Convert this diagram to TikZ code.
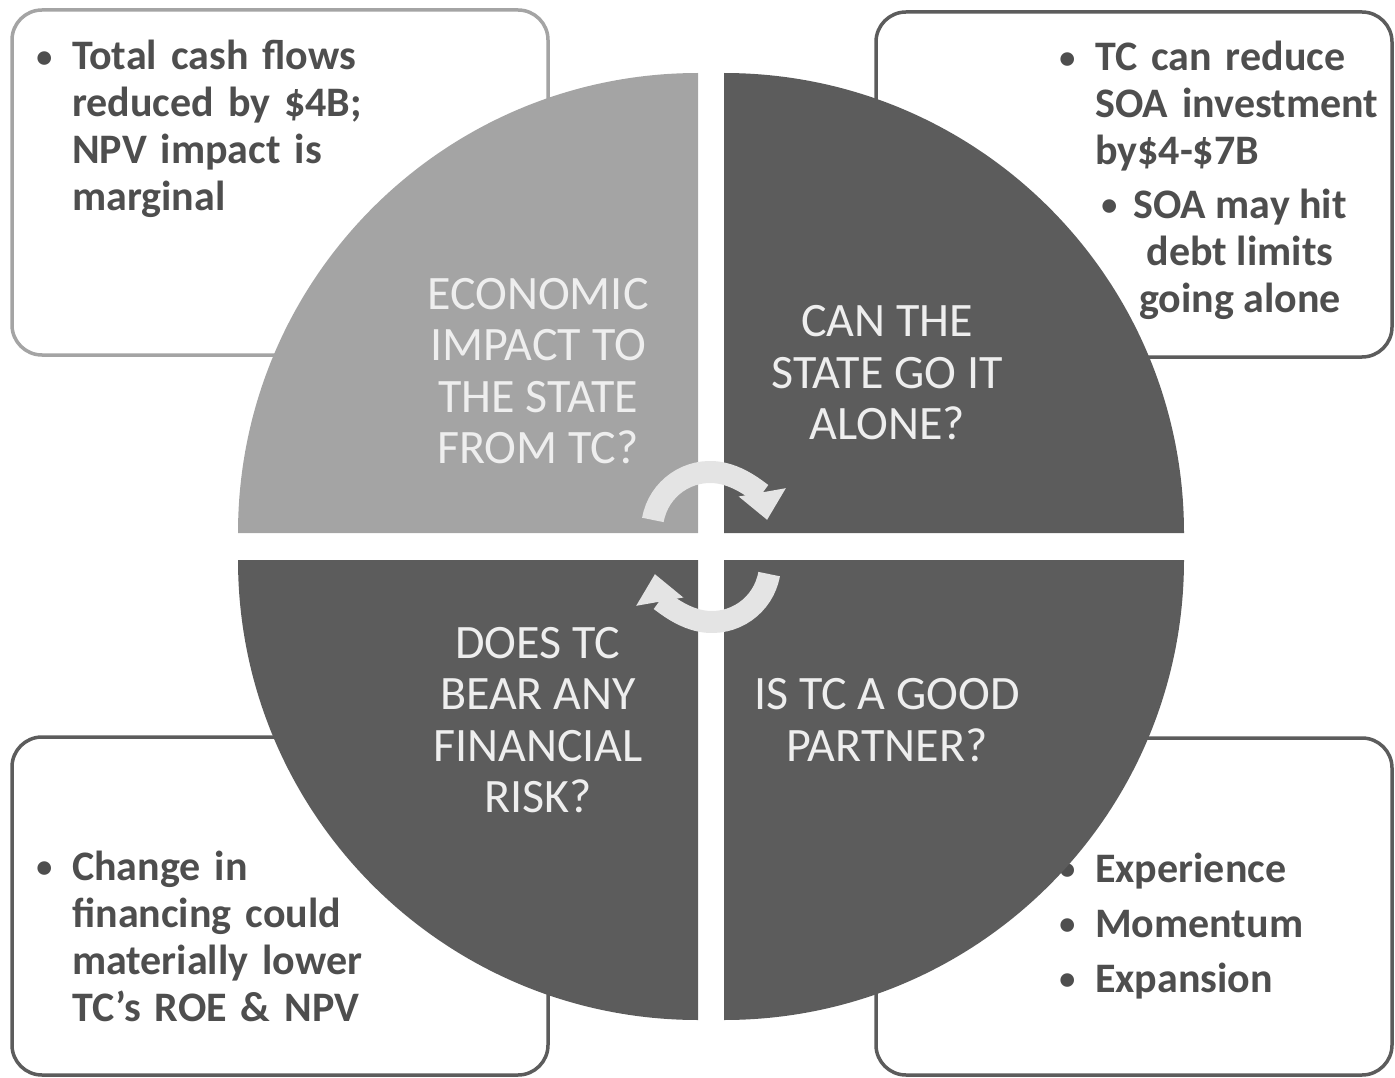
\documentclass[tikz,border=0pt]{standalone}
\usepackage{fontspec}
\setmainfont{Carlito}
\usepackage{tikz}
\usetikzlibrary{arrows.meta}
\definecolor{quadL}{RGB}{164, 164, 164}
\definecolor{quadD}{RGB}{92, 92, 92}
\definecolor{capT}{RGB}{238, 238, 238}
\definecolor{noteT}{RGB}{78, 78, 78}
\definecolor{loopC}{RGB}{228, 228, 228}
\newcommand{\bul}[1]{\leavevmode\llap{\raisebox{2.5pt}{\fontsize{32}{32}\selectfont\textbullet}\hspace{#1}}}

\begin{document}
\begin{tikzpicture}[x=1pt, y=-1pt,
    note/.style={anchor=base west, inner sep=0pt, text width=470pt, align=left,
      text=noteT, font=\bfseries\fontsize{42}{47}\selectfont},
    quad/.style={inner sep=0pt, align=center, text=capT, font=\fontsize{48}{51.5}\selectfont},
    frame/.style={line width=3.5pt, rounded corners=30pt, fill=white},
    cycler/.style={loopC, line width=22pt, -{Triangle[length=28pt, width=46pt]}}]
  \useasboundingbox (0,0) rectangle (1395,1078);

  % note boxes behind the disc
  \draw[frame, draw=quadL] (12,10) rectangle (548,355);
  \draw[frame, draw=quadD] (876,12) rectangle (1392,357);
  \draw[frame, draw=quadD] (12,737) rectangle (548,1075);
  \draw[frame, draw=quadD] (876,738) rectangle (1392,1075);

  \node[note] (econNote) at (72,70) {\bul{20pt}Total cash flows\\reduced by \$4B;\\NPV impact is\\marginal};
  \node[note] (aloneNote) at (1095,71) {\bul{20pt}TC can reduce\\SOA investment\\by\$4-\$7B};
  \node[note, anchor=base, text width=, align=center] (debtNote) at (1240,312)
    {\bul{16pt}SOA may hit\\debt limits\\going alone};
  \node[note] (riskNote) at (72,880) {\bul{20pt}Change in\\financing could\\materially lower\\TC’s ROE \& NPV};
  \node[note, font=\bfseries\fontsize{42}{55}\selectfont] (partnerNote) at (1095,882)
    {\bul{20pt}Experience\\\bul{20pt}Momentum\\\bul{20pt}Expansion};

  % four quarter discs around the cross
  \fill[quadL] (698,533) -- ++(180:460) arc[start angle=180, end angle=270, radius=460] -- cycle;
  \fill[quadD] (724,533) -- ++(270:460) arc[start angle=270, end angle=360, radius=460] -- cycle;
  \fill[quadD] (724,560) -- ++(0:460) arc[start angle=0, end angle=90, radius=460] -- cycle;
  \fill[quadD] (698,560) -- ++(90:460) arc[start angle=90, end angle=180, radius=460] -- cycle;

  \node[quad] (econ) at (538,371) {ECONOMIC\\IMPACT TO\\THE STATE\\FROM TC?};
  \node[quad] (alone) at (887,373) {CAN THE\\STATE GO IT\\ALONE?};
  \node[quad] (risk) at (538,720) {DOES TC\\BEAR ANY\\FINANCIAL\\RISK?};
  \node[quad] (partner) at (887,720) {IS TC A GOOD\\PARTNER?};

  % cycle arrows over the centre
  \coordinate (upHub) at (710,530);
  \coordinate (downHub) at (712,564);
  \draw[cycler] ([shift={(190:58)}]upHub) arc[start angle=190, end angle=350, radius=58];
  \draw[cycler] ([shift={(10:58)}]downHub) arc[start angle=10, end angle=170, radius=58];
\end{tikzpicture}
\end{document}
